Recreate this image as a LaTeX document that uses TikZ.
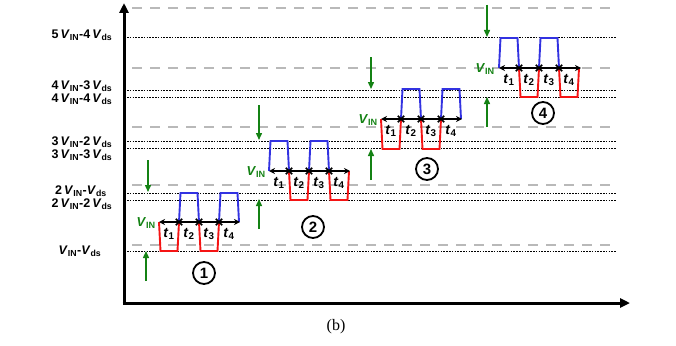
\documentclass[tikz,border=0pt]{standalone}
\usepackage{fontspec}
\setmainfont{Liberation Serif}
\newfontfamily\lsans{Liberation Sans}
\usetikzlibrary{arrows.meta}
\definecolor{gr}{RGB}{20,130,20}
\definecolor{rd}{RGB}{245,20,20}
\definecolor{bl}{RGB}{50,50,225}
\definecolor{gd}{RGB}{185,185,185}
\newcommand\mypulse[4]{\draw[#4, line width=1.9pt, line join=miter] (#1,#2) -- (#1+1.5,#3) -- (#1+18.5,#3) -- (#1+20,#2);}
\newcommand\myxmark[2]{\draw[line width=1.6pt] (#1-3.2,#2-3.2) -- (#1+3.2,#2+3.2) (#1-3.2,#2+3.2) -- (#1+3.2,#2-3.2);}
\newcommand\tlab[1]{\textit{t}\textsubscript{#1}}
\newcommand\vin{\textit{V}\textsubscript{IN}}
\newcommand\vds{\textit{V}\textsubscript{ds}}
\begin{document}
\begin{tikzpicture}[x=1pt,y=-1pt,
  lvl/.style={font=\lsans\bfseries\fontsize{12.5}{12}\selectfont, anchor=center, inner sep=0pt},
  tl/.style={font=\lsans\bfseries\fontsize{14}{14}\selectfont, inner sep=0pt},
  vl/.style={gr, font=\lsans\bfseries\fontsize{13}{13}\selectfont, inner sep=0pt, anchor=base east},
  dotl/.style={line width=1pt, dash pattern=on 1.6pt off 1.2pt},
  gdash/.style={gd, line width=1.4pt, dash pattern=on 10pt off 8pt},
  axisline/.style={line width=3pt, -{Triangle[length=10pt,width=9pt]}},
  garrow/.style={gr, line width=1.4pt, -{Triangle[length=7pt,width=6pt]}},
  dbl/.style={line width=1.8pt, {Stealth[length=6pt,width=6pt]}-{Stealth[length=6pt,width=6pt]}},
  num/.style={circle, draw, line width=1.8pt, inner sep=0pt, minimum size=22pt, font=\lsans\bfseries\fontsize{15}{15}\selectfont}
]
\useasboundingbox (0,0) rectangle (676,345);

% gray dashed lines
\foreach \y in {8,68,127,185,245} \draw[gdash] (132,\y) -- (616,\y);
% dotted lines
\foreach \y in {38,90,97,141,148,193,200,251} \draw[dotl] (127,\y) -- (616,\y);

% axes
\coordinate (O) at (124,303);
\coordinate (Ytop) at (124,3);
\coordinate (Xend) at (630,303);
\draw[axisline] (O) -- (Ytop);
\draw[axisline] ([xshift=-1.5pt]O) -- (Xend);

% level labels
\node[lvl] (l5) at (82,35) {5\,\vin-4\,\vds};
\node[lvl] (l43) at (82,86) {4\,\vin-3\,\vds};
\node[lvl] (l44) at (82,99) {4\,\vin-4\,\vds};
\node[lvl] (l32) at (82,142) {3\,\vin-2\,\vds};
\node[lvl] (l33) at (82,155) {3\,\vin-3\,\vds};
\node[lvl] (l21) at (81,191) {2\,\vin-\vds};
\node[lvl] (l22) at (82,204) {2\,\vin-2\,\vds};
\node[lvl] (l11) at (80,251) {\vin-\vds};

% waveform 1
\foreach \i/\c/\l in {0/rd/251,1/bl/193,2/rd/251,3/bl/193} {\mypulse{159+20*\i}{222}{\l}{\c}}
\coordinate (a1) at (159,222); \coordinate (b1) at (240,222);
\draw[dbl] (a1) -- (b1);
\foreach \i in {1,2,3} {\myxmark{159+20*\i}{222}}
\foreach \i in {1,2,3,4} \node[tl] (t1\i) at (149+20*\i,234) {\tlab{\i}};
\node[vl] (v1) at (156,226) {\vin};

% waveform 2
\foreach \i/\c/\l in {0/bl/141,1/rd/200,2/bl/141,3/rd/200} {\mypulse{269+20*\i}{171}{\l}{\c}}
\coordinate (a2) at (269,171); \coordinate (b2) at (350,171);
\draw[dbl] (a2) -- (b2);
\foreach \i in {1,2,3} {\myxmark{269+20*\i}{171}}
\foreach \i in {1,2,3,4} \node[tl] (t2\i) at (259+20*\i,183) {\tlab{\i}};
\node[vl] (v2) at (266,175) {\vin};

% waveform 3
\foreach \i/\c/\l in {0/rd/149,1/bl/89,2/rd/149,3/bl/89} {\mypulse{381+20*\i}{119}{\l}{\c}}
\coordinate (a3) at (381,119); \coordinate (b3) at (462,119);
\draw[dbl] (a3) -- (b3);
\foreach \i in {1,2,3} {\myxmark{381+20*\i}{119}}
\foreach \i in {1,2,3,4} \node[tl] (t3\i) at (371+20*\i,131) {\tlab{\i}};
\node[vl] (v3) at (378,123) {\vin};

% waveform 4
\foreach \i/\c/\l in {0/bl/38,1/rd/97,2/bl/38,3/rd/97} {\mypulse{499+20*\i}{68}{\l}{\c}}
\coordinate (a4) at (499,68); \coordinate (b4) at (581,68);
\draw[dbl] (a4) -- (b4);
\foreach \i in {1,2,3} {\myxmark{499+20*\i}{68}}
\foreach \i in {1,2,3,4} \node[tl] (t4\i) at (489+20*\i,80) {\tlab{\i}};
\node[vl] (v4) at (495,72) {\vin};

% green arrows
\coordinate (g1s) at (146,281); \coordinate (g1e) at (146,251);
\coordinate (g2s) at (148,160); \coordinate (g2e) at (148,192);
\coordinate (g3s) at (259,229); \coordinate (g3e) at (259,199);
\coordinate (g4s) at (259,105); \coordinate (g4e) at (259,140);
\coordinate (g5s) at (371,180); \coordinate (g5e) at (371,149);
\coordinate (g6s) at (371,57);  \coordinate (g6e) at (371,89);
\coordinate (g7s) at (487,127); \coordinate (g7e) at (487,97);
\coordinate (g8s) at (487,5);   \coordinate (g8e) at (487,37);
\foreach \k in {1,...,8} \draw[garrow] (g\k s) -- (g\k e);

% circled numbers
\node[num] (c1) at (204,273) {1};
\node[num] (c2) at (313,227) {2};
\node[num] (c3) at (427,169) {3};
\node[num] (c4) at (543,113) {4};

% caption
\node[font=\fontsize{16}{16}\selectfont, inner sep=0pt] (cap) at (336,327) {(b)};
\end{tikzpicture}
\end{document}
